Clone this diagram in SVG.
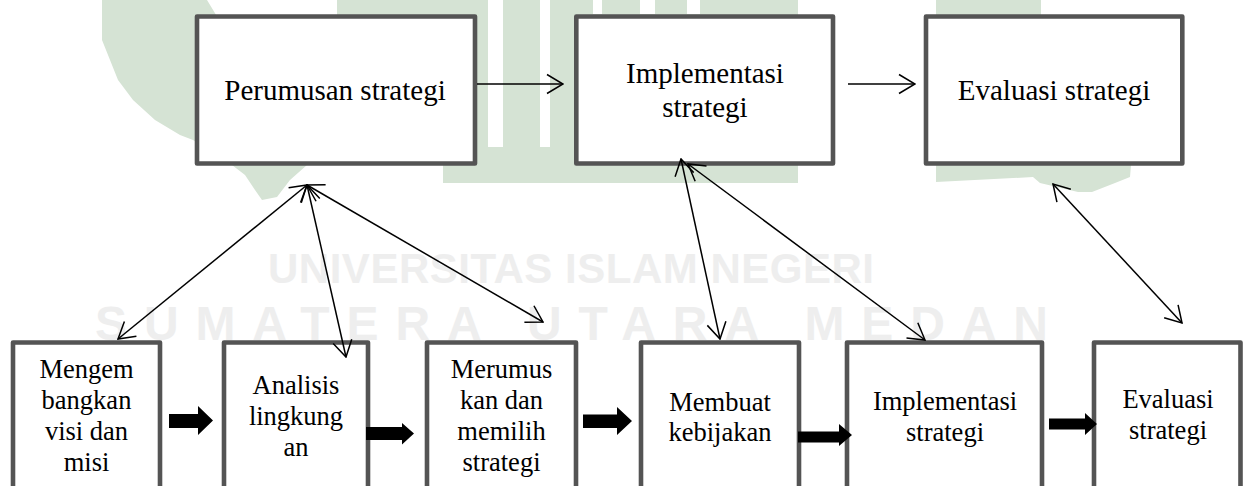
<svg xmlns="http://www.w3.org/2000/svg" width="1246" height="486" viewBox="0 0 1246 486">
<style>
.box{fill:#fff;stroke:#545454;stroke-width:4.6;stroke-linejoin:round}
.t1{font-family:"Liberation Serif","Times New Roman",serif;font-size:29px;fill:#000;text-anchor:middle}
.t2{font-family:"Liberation Serif","Times New Roman",serif;font-size:26.5px;fill:#000;text-anchor:middle}
.wm{fill:#d5e3d4}
.wmt{font-family:"Liberation Sans",Arial,sans-serif;font-weight:bold;fill:#eeeeee}
.ln{stroke:#000;stroke-width:1.5;fill:none}
.blk{fill:#000}
</style>
<defs>
<marker id="ah" markerUnits="userSpaceOnUse" markerWidth="18" markerHeight="22" viewBox="0 0 18 22" refX="17" refY="11" orient="auto-start-reverse">
<path d="M1,1.5 L17,11 L1,20.5" fill="none" stroke="#000" stroke-width="1.5"/>
</marker>
</defs>
<g id="watermark">
<path class="wm" d="M102,0 L207,0 L307,165 L290,180 L277,197 L262,200 L255,190 L245,175 L232,165 L193,140 L180,135 L155,120 L133,100 L118,80 L110,60 L102,40 Z"/>
<path class="wm" d="M337,0 L798,0 L798,183 L443,183 L443,165 L337,165 Z"/>
<rect x="488" y="0" width="15" height="147" fill="#fff"/>
<rect x="540" y="0" width="10" height="147" fill="#fff"/>
<rect x="593" y="0" width="9" height="14" fill="#fff"/>
<rect x="640" y="0" width="15" height="14" fill="#fff"/>
<rect x="687" y="0" width="13" height="14" fill="#fff"/>
<path class="wm" d="M936,0 L1041,0 L1041,165 L1131,165 L1130,177 L1115,183 L1092,192 L1078,192 L1040,183 L1033,177 L936,182 Z"/>
<text class="wmt" x="268" y="283" font-size="42" textLength="606" lengthAdjust="spacing">UNIVERSITAS ISLAM NEGERI</text>
<text class="wmt" x="95" y="340" font-size="48" textLength="953" lengthAdjust="spacing">SUMATERA UTARA MEDAN</text>
</g>
<g id="n-perumusan">
<rect class="box" x="197" y="16.5" width="278" height="147"/>
<text class="t1" x="335" y="100">Perumusan strategi</text>
</g>
<g id="n-implementasi-top">
<rect class="box" x="576.3" y="16.5" width="256.7" height="147"/>
<text class="t1" x="705" y="83">Implementasi</text>
<text class="t1" x="705" y="117">strategi</text>
</g>
<g id="n-evaluasi-top">
<rect class="box" x="926" y="16.5" width="256.3" height="147"/>
<text class="t1" x="1054" y="100">Evaluasi strategi</text>
</g>
<g id="n-visi">
<rect class="box" x="13" y="342.5" width="147" height="200"/>
<text class="t2" x="86.5" y="378.3">Mengem</text>
<text class="t2" x="86.5" y="409.3">bangkan</text>
<text class="t2" x="86.5" y="440">visi dan</text>
<text class="t2" x="86.5" y="470.7">misi</text>
</g>
<g id="n-analisis">
<rect class="box" x="224" y="342.5" width="144" height="200"/>
<text class="t2" x="296" y="394">Analisis</text>
<text class="t2" x="296" y="425">lingkung</text>
<text class="t2" x="296" y="455.5">an</text>
</g>
<g id="n-merumuskan">
<rect class="box" x="427" y="342.5" width="149" height="200"/>
<text class="t2" x="501.5" y="378.3">Merumus</text>
<text class="t2" x="501.5" y="409.3">kan dan</text>
<text class="t2" x="501.5" y="440">memilih</text>
<text class="t2" x="501.5" y="470.7">strategi</text>
</g>
<g id="n-kebijakan">
<rect class="box" x="641" y="342.5" width="158" height="200"/>
<text class="t2" x="720" y="411">Membuat</text>
<text class="t2" x="720" y="441">kebijakan</text>
</g>
<g id="n-implementasi-bottom">
<rect class="box" x="847" y="342.5" width="195" height="200"/>
<text class="t2" x="945" y="410">Implementasi</text>
<text class="t2" x="945" y="441">strategi</text>
</g>
<g id="n-evaluasi-bottom">
<rect class="box" x="1094" y="342.5" width="146.5" height="200"/>
<text class="t2" x="1168" y="407.7">Evaluasi</text>
<text class="t2" x="1168" y="439.3">strategi</text>
</g>
<g id="connectors">
<line class="ln" x1="477" y1="84" x2="563" y2="84" marker-end="url(#ah)"/>
<line class="ln" x1="848" y1="84" x2="915" y2="84" marker-end="url(#ah)"/>
<line class="ln" x1="307" y1="185" x2="118" y2="339" marker-start="url(#ah)" marker-end="url(#ah)"/>
<line class="ln" x1="307" y1="185" x2="346" y2="357" marker-start="url(#ah)" marker-end="url(#ah)"/>
<line class="ln" x1="307" y1="185" x2="543" y2="322" marker-start="url(#ah)" marker-end="url(#ah)"/>
<line class="ln" x1="681" y1="159" x2="720" y2="339" marker-start="url(#ah)" marker-end="url(#ah)"/>
<line class="ln" x1="688" y1="164" x2="925" y2="340" marker-start="url(#ah)" marker-end="url(#ah)"/>
<line class="ln" x1="1053" y1="184" x2="1182" y2="323" marker-start="url(#ah)" marker-end="url(#ah)"/>
<polygon class="blk" points="169,414 198,414 198,406 213,420.5 198,435 198,428 169,428"/>
<polygon class="blk" points="366,427 402,427 402,423 414,433.5 402,444.5 402,440 366,440"/>
<polygon class="blk" points="583,414.5 617,414.5 617,407 632,421 617,435 617,428 583,428"/>
<polygon class="blk" points="798,431.5 839,431.5 839,424 852,435 839,446 839,442.5 798,442.5"/>
<polygon class="blk" points="1049,418.5 1085,418.5 1085,413 1097,424 1085,435 1085,429.5 1049,429.5"/>
</g>
</svg>
